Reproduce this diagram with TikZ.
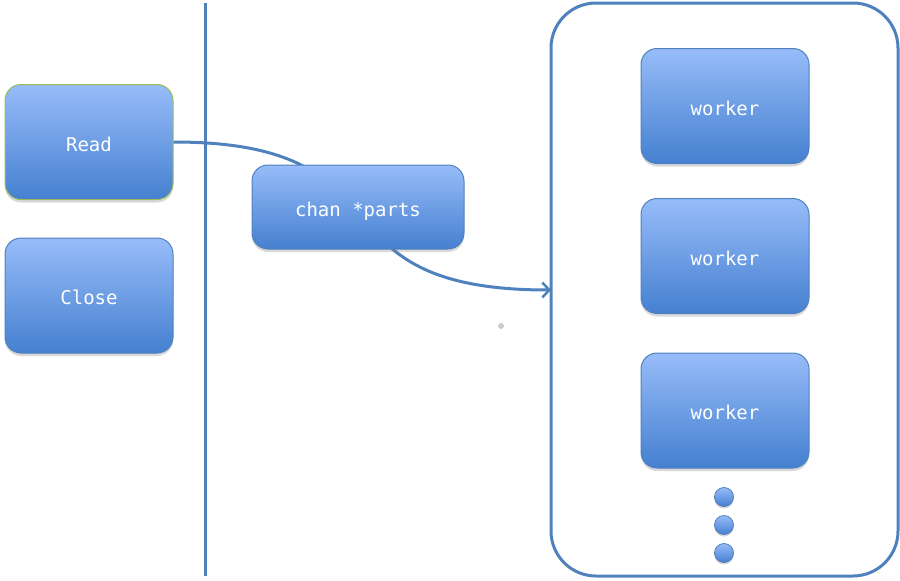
\documentclass[tikz,border=0pt]{standalone}
\usepackage{fontspec}
\setmonofont{DejaVu Sans Mono}
\usetikzlibrary{arrows.meta,shadows,backgrounds}
\definecolor{boxtop}{HTML}{97BCF9}
\definecolor{boxbot}{HTML}{4580D0}
\definecolor{edge}{HTML}{4F81BD}
\definecolor{greenedge}{HTML}{9BBB59}
\tikzset{
  proc/.style={rounded corners=16pt, draw=edge, line width=1pt,
    top color=boxtop, bottom color=boxbot, text=white,
    font=\ttfamily\fontsize{19}{22}\selectfont,
    text height=18pt, text depth=0pt,
    drop shadow={opacity=0.3, shadow xshift=0pt, shadow yshift=-3pt},
    minimum width=168pt, minimum height=115pt, inner sep=0pt},
  dotball/.style={circle, draw=edge, line width=0.8pt, top color=boxtop, bottom color=boxbot,
    minimum size=19pt, inner sep=0pt,
    drop shadow={opacity=0.3, shadow xshift=0pt, shadow yshift=-2pt}},
  conn/.style={draw=edge, line width=3pt},
}
\begin{document}
\begin{tikzpicture}[x=1pt,y=-1pt]
\useasboundingbox (0,0) rectangle (900,581);
% pool container
\node[draw=edge, line width=3pt, rounded corners=45pt, minimum width=347pt, minimum height=573pt, inner sep=0pt] (pool) at (724.5,289.5) {};
% divider line
\coordinate (dtop) at (205,3);
\coordinate (dbot) at (205,576);
\draw[conn] (dtop) -- (dbot);
% left boxes
\node[proc, draw=greenedge] (read) at (89,142) {Read};
\node[proc] (close) at (89,295.5) {Close};
% connector (behind chan box)
\coordinate (poolin) at (551,290);
\draw[conn, -{Straight Barb[length=7pt,width=15pt,line width=2.5pt]}] (read.east) .. controls +(247,0) and +(-251,0) .. (poolin);
% channel
\node[proc, minimum width=212pt, minimum height=84pt] (chan) at (358,207) {chan *parts};
% workers
\node[proc] (w1) at (725,106) {worker};
\node[proc] (w2) at (725,256) {worker};
\node[proc] (w3) at (725,410.5) {worker};
% dots
\node[dotball] (d1) at (724,497) {};
\node[dotball] (d2) at (724,525) {};
\node[dotball] (d3) at (724,553) {};
% small speck
\node[circle, fill=black!20, minimum size=6pt, inner sep=0pt] (speck) at (501,326) {};
\end{tikzpicture}
\end{document}
